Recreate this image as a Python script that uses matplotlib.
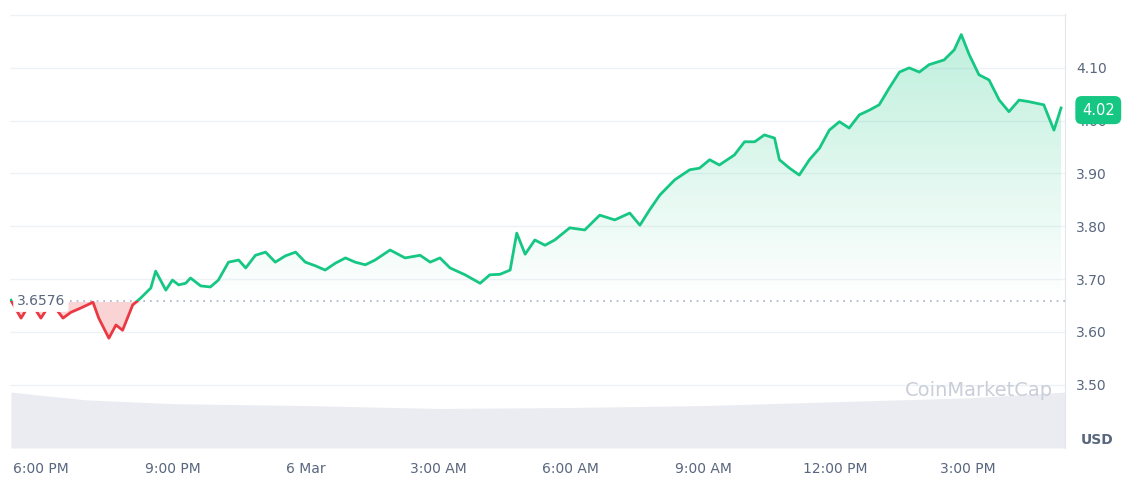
import numpy as np
import matplotlib.pyplot as plt
from matplotlib.patches import Rectangle

# hours after 6:00 PM (5 Mar) and price in USD
hours = [-0.68, -0.45, -0.23, 0, 0.23, 0.5, 0.68, 0.9, 1.18, 1.31, 1.54, 1.7, 1.85, 2.08, 2.26,
         2.49, 2.6, 2.83, 2.98, 3.12, 3.28, 3.39, 3.62, 3.84, 4.02, 4.25, 4.48, 4.64, 4.86, 5.09,
         5.31, 5.54, 5.77, 5.99, 6.22, 6.44, 6.67, 6.9, 7.12, 7.35, 7.57, 7.91, 8.25, 8.59, 8.82,
         9.04, 9.27, 9.61, 9.95, 10.17, 10.4, 10.63, 10.78, 10.97, 11.19, 11.42, 11.64, 11.98,
         12.32, 12.66, 13.0, 13.34, 13.57, 13.79, 14.02, 14.36, 14.7, 14.92, 15.15, 15.37, 15.71,
         15.94, 16.17, 16.39, 16.62, 16.73, 16.96, 17.18, 17.41, 17.64, 17.86, 18.09, 18.31,
         18.54, 18.77, 18.99, 19.22, 19.45, 19.67, 19.9, 20.12, 20.46, 20.69, 20.85, 21.03,
         21.25, 21.48, 21.71, 21.93, 22.16, 22.38, 22.72, 22.95, 23.11]
price = [3.660, 3.626, 3.656, 3.626, 3.656, 3.626, 3.637, 3.645, 3.656, 3.626, 3.588, 3.613,
         3.603, 3.651, 3.664, 3.683, 3.715, 3.679, 3.698, 3.689, 3.692, 3.702, 3.687, 3.685,
         3.698, 3.732, 3.736, 3.721, 3.745, 3.751, 3.732, 3.744, 3.751, 3.732, 3.725, 3.717,
         3.730, 3.740, 3.732, 3.727, 3.736, 3.755, 3.740, 3.745, 3.732, 3.740, 3.721, 3.708,
         3.692, 3.708, 3.709, 3.717, 3.787, 3.747, 3.774, 3.764, 3.774, 3.797, 3.793, 3.821,
         3.812, 3.825, 3.802, 3.831, 3.859, 3.888, 3.907, 3.910, 3.926, 3.916, 3.935, 3.960,
         3.960, 3.973, 3.967, 3.926, 3.910, 3.897, 3.926, 3.948, 3.982, 3.998, 3.986, 4.011,
         4.020, 4.030, 4.062, 4.092, 4.100, 4.092, 4.106, 4.115, 4.134, 4.163, 4.125, 4.087,
         4.077, 4.039, 4.017, 4.039, 4.036, 4.030, 3.982, 4.024]
baseline = 3.6576
last_price = "4.02"

# volume (relative units) sampled across the day
vol_hours = [-0.68, 1, 3, 6, 9, 12, 15, 18, 21, 23.2]
volume = [58, 50, 46, 44, 41, 42, 44, 48, 52, 58]

tick_hours = [0, 3, 6, 9, 12, 15, 18, 21]
tick_labels = ["6:00 PM", "9:00 PM", "6 Mar", "3:00 AM", "6:00 AM", "9:00 AM", "12:00 PM", "3:00 PM"]
yticks = [3.50, 3.60, 3.70, 3.80, 3.90, 4.00, 4.10]

GREEN = "#16c784"
RED = "#ea3943"
GRID = "#eff2f5"
TXT = "#58667e"

x = np.array(hours)
y = np.array(price)

fig = plt.figure(figsize=(11.4, 5), dpi=100)
ax = fig.add_axes([10 / 1140, 52 / 500, 1055 / 1140, 434 / 500])
xlim = (-0.7, 23.2)
ylim = (3.38, 4.202)

# volume on its own axis, drawn behind
axv = ax.twinx()
axv.fill_between(vol_hours, volume, 0, color="#e6e8ee", lw=0, alpha=0.8)
axv.set_ylim(0, 450)
axv.axis("off")
ax.set_zorder(axv.get_zorder() + 1)
ax.patch.set_visible(False)

ax.set_xlim(*xlim)
ax.set_ylim(*ylim)

for v in yticks + [4.2]:
    ax.axhline(v, color=GRID, lw=1, zorder=0)

# green gradient fill above baseline
grad = np.linspace(0, 1, 256).reshape(-1, 1)
img = ax.imshow(grad, extent=[xlim[0], xlim[1], baseline, 4.17], origin="lower",
                cmap=plt.matplotlib.colors.LinearSegmentedColormap.from_list(
                    "g", [(0.086, 0.78, 0.52, 0.0), (0.086, 0.78, 0.52, 0.28)]),
                aspect="auto", zorder=1)
poly = ax.fill_between(x, np.maximum(y, baseline), baseline, color="none", lw=0)
img.set_clip_path(poly.get_paths()[0], transform=ax.transData)
ax.set_xlim(*xlim)
ax.set_ylim(*ylim)

# red fill below baseline
ax.fill_between(x, np.minimum(y, baseline), baseline, color=RED, alpha=0.22, lw=0, zorder=1)

# line split at baseline by clipping
up = Rectangle((xlim[0], baseline), 30, 5, transform=ax.transData)
dn = Rectangle((xlim[0], 0), 30, baseline, transform=ax.transData)
lg, = ax.plot(x, y, color=GREEN, lw=2, zorder=3, solid_joinstyle="round")
lg.set_clip_path(up)
lr, = ax.plot(x, y, color=RED, lw=2, zorder=3, solid_joinstyle="round")
lr.set_clip_path(dn)

ax.axhline(baseline, color="#a6b0c3", lw=1.2, ls=(0, (1, 3)), zorder=2)
ax.text(0.0, baseline, "3.6576", fontsize=10, color=TXT, va="center", ha="center",
        bbox=dict(boxstyle="round,pad=0.25", fc="white", ec="none"), zorder=4)

ax.set_xticks(tick_hours)
ax.set_xticklabels(tick_labels)
ax.yaxis.tick_right()
ax.set_yticks(yticks)
ax.set_yticklabels([f"{v:.2f}" for v in yticks])
ax.tick_params(axis="both", length=0, labelsize=10, colors=TXT, pad=10)
ax.tick_params(axis="y", pad=8)
for s in ["top", "left", "bottom"]:
    ax.spines[s].set_visible(False)
ax.spines["right"].set_color("#e3e6eb")

ax.text(1.016, float(last_price), last_price, transform=ax.get_yaxis_transform(),
        fontsize=10.5, color="white", va="center", ha="left", zorder=10,
        bbox=dict(boxstyle="round,pad=0.45", fc=GREEN, ec="none"))
fig.text(1113 / 1140, 56 / 500, "USD", fontsize=10, color=TXT, ha="right", fontweight="bold")
fig.text(905 / 1140, 110 / 500, "CoinMarketCap", fontsize=14, color="#c9ced8", ha="left", va="center")

fig.savefig("out.png", dpi=100)
